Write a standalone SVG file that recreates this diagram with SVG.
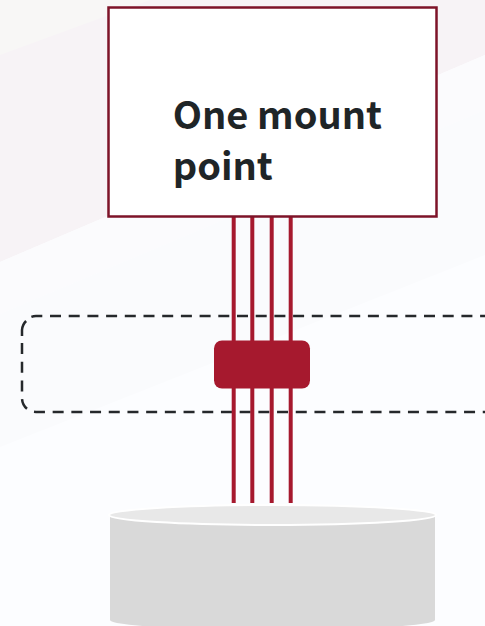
<svg xmlns="http://www.w3.org/2000/svg" width="485" height="626" viewBox="0 0 485 626">
<style>
.wire{stroke:#a6192e;stroke-width:4;fill:none}
.label{font-family:"Noto Sans CJK JP","Noto Sans",sans-serif;font-weight:700;font-size:38px;fill:#1f2527}
.dash{fill:none;stroke:#25282b;stroke-width:2.5;stroke-dasharray:11 7.700}
</style>
<g id="background">
<rect width="485" height="626" fill="#fcfdff"/>
<polygon points="0,0 485,0 485,55 0,262" fill="#f7f3f6"/>
<polygon points="0,0 150,0 0,55" fill="#f8f7f6"/>
<polygon points="0,262 485,55 485,110 0,314" fill="#fbfbfd"/>
<polygon points="0,314 485,110 485,255 0,447" fill="#fafbfd"/>
</g>
<g id="zone">
<path class="dash" stroke-dashoffset="6.100" d="M485 316H36A14 14 0 0 0 31 317"/>
<path class="dash" style="stroke-dasharray:none" d="M26.100 321A14 14 0 0 0 22 330V336"/>
<path class="dash" d="M22 343V398A14 14 0 0 0 36 412H485"/>
</g>
<g id="connectors">
<line class="wire" x1="233.7" y1="216" x2="233.7" y2="503"/>
<line class="wire" x1="252.3" y1="216" x2="252.3" y2="503"/>
<line class="wire" x1="271.7" y1="216" x2="271.7" y2="503"/>
<line class="wire" x1="290.7" y1="216" x2="290.7" y2="503"/>
</g>
<g id="mount-point">
<rect x="108.5" y="7.5" width="328" height="209" fill="#fff" stroke="#7d1328" stroke-width="2.5"/>
<text class="label" x="172.700" y="129">One mount</text>
<text class="label" x="172.700" y="180">point</text>
</g>
<g id="chip">
<rect x="214" y="340.5" width="96" height="48" rx="8" fill="#a6192e"/>
</g>
<g id="disk">
<path d="M110 515V620A162.500 10 0 0 0 435 620V515Z" fill="#d9d9d9"/>
<ellipse cx="272.500" cy="515" rx="163.500" ry="10" fill="#e8e8e8" stroke="#fff" stroke-width="2"/>
</g>
</svg>
